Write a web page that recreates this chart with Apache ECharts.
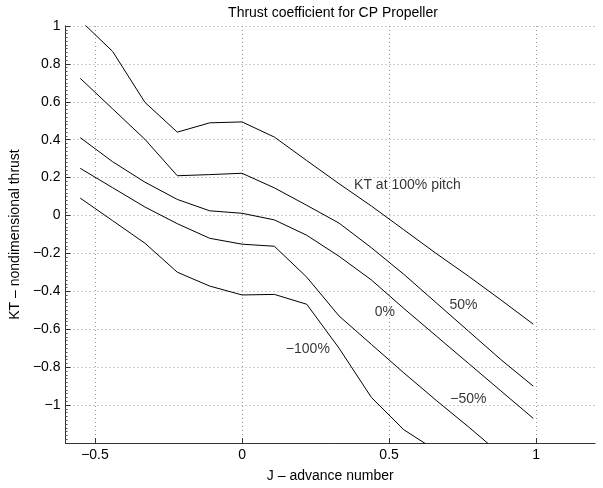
<!DOCTYPE html>
<html><head><meta charset="utf-8">
<script src="https://cdn.jsdelivr.net/npm/echarts@6/dist/echarts.min.js"></script>
<style>html,body{margin:0;padding:0;background:#fff}#c{width:603px;height:488px}</style>
</head><body><div id="c"></div>
<script>
// advance number J
const J = [-0.55,-0.44,-0.33,-0.22,-0.11,0,0.11,0.22,0.33,0.44,0.55,0.66,0.77,0.88,0.99];
// KT curves for pitch settings
const kt100  = [1.03,0.866,0.597,0.44,0.489,0.494,0.414,0.29,0.168,0.05,-0.075,-0.2,-0.32,-0.445,-0.573];
const kt50   = [0.724,0.563,0.402,0.21,0.216,0.223,0.146,0.054,-0.04,-0.17,-0.31,-0.46,-0.61,-0.76,-0.90];
const kt0    = [0.411,0.284,0.176,0.085,0.025,0.012,-0.023,-0.104,-0.215,-0.34,-0.49,-0.635,-0.78,-0.925,-1.07];
const ktm50  = [0.249,0.147,0.045,-0.043,-0.12,-0.151,-0.162,-0.325,-0.53,-0.68,-0.83,-0.975,-1.115,-1.26,null];
const ktm100 = [0.092,-0.027,-0.146,-0.299,-0.372,-0.419,-0.416,-0.468,-0.70,-0.96,-1.13,-1.24,null,null,null];
// tick values
const xTicks = [-0.5,0,0.5,1];
const yMin = -1.2, yMax = 1, yStep = 0.2;
// in-plot annotations (data coordinates)
const noteText = ['KT at 100% pitch','50%','0%','\u2212100%','\u221250%'];
const noteJ  = [0.381,0.705,0.451,0.149,0.708];
const noteKT = [0.159,-0.475,-0.507,-0.703,-0.968];

const FONT = "'Liberation Sans', Arial, Helvetica, sans-serif";
function fmt(v){
  const r = Math.round(v*10)/10;
  if (Math.abs(r) < 1e-9) return '0';
  return (r<0?'\u2212':'') + String(Math.abs(r));
}
function pairs(arr){ return J.map((x,i)=>[x, arr[i]]).filter(p=>p[1]!==null); }

const curves = [kt100, kt50, kt0, ktm50, ktm100];
const series = curves.map(c => ({
  type:'line', data: pairs(c), symbol:'none', smooth:false, clip:true,
  lineStyle:{color:'#000', width:1}, silent:true, animation:false
}));
series.push({
  type:'scatter', symbolSize:0, silent:true, animation:false, clip:false,
  data: noteText.map((t,i)=>({value:[noteJ[i], noteKT[i]], name:t})),
  label:{show:true, position:[0,0], align:'left', verticalAlign:'middle',
    formatter: p => p.name, color:'#000', fontSize:14, fontFamily:FONT}
});

const chart = echarts.init(document.getElementById('c'), null, {renderer:'canvas'});
chart.setOption({
  animation:false,
  backgroundColor:'#fff',
  title:{text:'Thrust coefficient for CP Propeller', left:328, top:1, textAlign:'center',
    textStyle:{fontSize:14, fontWeight:'normal', color:'#000', fontFamily:FONT}},
  grid:{left:61, right:8, top:26, bottom:41, containLabel:false},
  xAxis:{type:'value', min:-0.6, max:1.2,
    name:'J \u2013 advance number', nameLocation:'middle', nameGap:26,
    nameTextStyle:{fontSize:14, color:'#000', fontFamily:FONT},
    axisLine:{show:true, onZero:false, lineStyle:{color:'#333', width:1}},
    axisTick:{show:true, inside:true, length:5, customValues:xTicks, lineStyle:{color:'#333'}},
    axisLabel:{customValues:xTicks, formatter:fmt, margin:5, fontSize:14, color:'#000', fontFamily:FONT},
    splitLine:{show:true, lineStyle:{color:'#999', width:1, type:[1,3]}}
  },
  yAxis:{type:'value', min:yMin, max:yMax, interval:yStep,
    name:'KT \u2013 nondimensional thrust', nameLocation:'middle', nameGap:29,
    nameTextStyle:{fontSize:14, color:'#000', fontFamily:FONT},
    axisLine:{show:true, onZero:false, lineStyle:{color:'#333', width:1}},
    axisTick:{show:true, inside:true, length:5, lineStyle:{color:'#333'}},
    minorTick:{show:true, splitNumber:10, length:2, lineStyle:{color:'#555'}},
    axisLabel:{formatter: v => (Math.abs(v-yMin)<1e-9 ? '' : fmt(v)), margin:5, fontSize:14, color:'#000', fontFamily:FONT},
    splitLine:{show:true, lineStyle:{color:'#999', width:1, type:[1,3]}}
  },
  series: series
});
</script></body></html>
